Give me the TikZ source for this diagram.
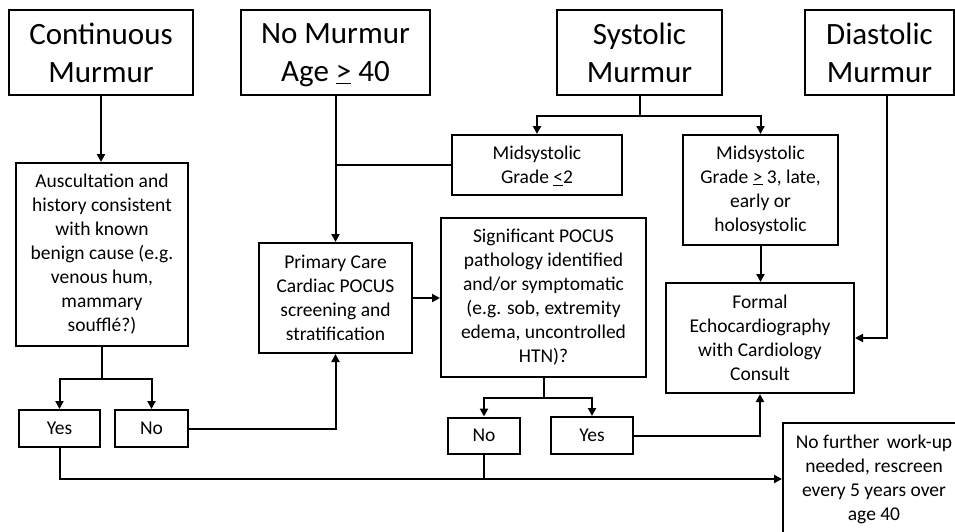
\documentclass[tikz,border=0pt]{standalone}
\usepackage{fontspec}
\setmainfont{Carlito}
\usetikzlibrary{arrows.meta}
\begin{document}
\begin{tikzpicture}[x=1pt,y=-1pt,
  box/.style={draw, line width=2pt, align=center, inner sep=0pt, font=\fontsize{19.5}{24}\selectfont},
  big/.style={box, font=\fontsize{31}{38}\selectfont},
  conn/.style={line width=2pt},
  arr/.style={conn, -{Triangle[length=8pt,width=8pt]}}]
\useasboundingbox (0,0) rectangle (955,531);
\clip (0,0) rectangle (955,531);
\fill[white] (0,0) rectangle (955,531);
% top boxes
\node[big, minimum width=184, minimum height=85] (cont) at (101,52.5) {Continuous\\Murmur};
\node[big, minimum width=189, minimum height=85] (nomur) at (335.5,52.5) {No Murmur\\\raisebox{0pt}[\height][0pt]{Age \underline{>} 40}};
\node[big, minimum width=165, minimum height=85] (sys) at (639.5,52.5) {Systolic\\Murmur};
\node[big, minimum width=149, minimum height=85] (dia) at (879.5,52.5) {Diastolic\\Murmur};
% second row
\node[box, minimum width=170, minimum height=60] (ms2) at (537,165) {Midsystolic\\Grade \smash{\underline{<}}2};
\node[box, minimum width=155, minimum height=110] (ms3) at (760.5,190) {Midsystolic\\Grade \smash{\underline{>}} 3, late,\\early or\\holosystolic};
\node[box, minimum width=172, minimum height=183] (ausc) at (102,254.5) {Auscultation and\\history consistent\\with known\\benign cause (e.g.\\venous hum,\\mammary\\souffl\'e?)};
\node[box, minimum width=153, minimum height=110] (pc) at (335.5,298) {Primary Care\\Cardiac POCUS\\screening and\\stratification};
\node[box, minimum width=205, minimum height=159] (sig) at (543.5,297.5) {Significant POCUS\\pathology identified\\and/or symptomatic\\(e.g. sob, extremity\\edema, uncontrolled\\HTN)?};
\node[box, minimum width=188, minimum height=110] (echo) at (760,338) {Formal\\Echocardiography\\with Cardiology\\Consult};
% yes/no
\node[box, minimum width=81, minimum height=37] (yes1) at (59.5,428.5) {Yes};
\node[box, minimum width=73, minimum height=37] (no1) at (151.5,428.5) {No};
\node[box, minimum width=72, minimum height=36] (no2) at (484,435.5) {No};
\node[box, minimum width=82, minimum height=37] (yes2) at (592,435.5) {Yes};
\node[box, minimum width=182, minimum height=112, anchor=west] (nf) at (782,479) {No further\hspace{3pt} work-up\\needed, rescreen\\every 5 years over\\age 40};
% connectors
\draw[arr] (cont.south) -- (cont.south |- ausc.north);
\draw[arr] (nomur.south) -- (nomur.south |- pc.north);
\draw[conn] (ms2.west) -- (ms2.west -| nomur.south);
\draw[conn] (sys.south) -- ++(0,20) coordinate (sj);
\draw[arr] (sj) -| (ms2.north);
\draw[arr] (sj) -| (ms3.north);
\draw[arr] (ms3.south) -- (ms3.south |- echo.north);
\draw[arr] ([xshift=7.5pt]dia.south) |- (echo.east);
\draw[conn] (ausc.south) -- ++(0,32) coordinate (aj);
\draw[arr] (aj) -| (yes1.north);
\draw[arr] (aj) -| (no1.north);
\draw[arr] (no1.east) -| (pc.south);
\draw[arr] (pc.east) -- (pc.east -| sig.west);
\draw[conn] (sig.south) -- ++(0,20) coordinate (gj);
\draw[arr] (gj) -| (no2.north);
\draw[arr] (gj) -| (yes2.north);
\draw[arr] (yes2.east) -| (echo.south);
\draw[arr] (yes1.south) |- (nf.west);
\draw[conn] (no2.south) -- (no2.south |- nf.west);
\end{tikzpicture}
\end{document}
